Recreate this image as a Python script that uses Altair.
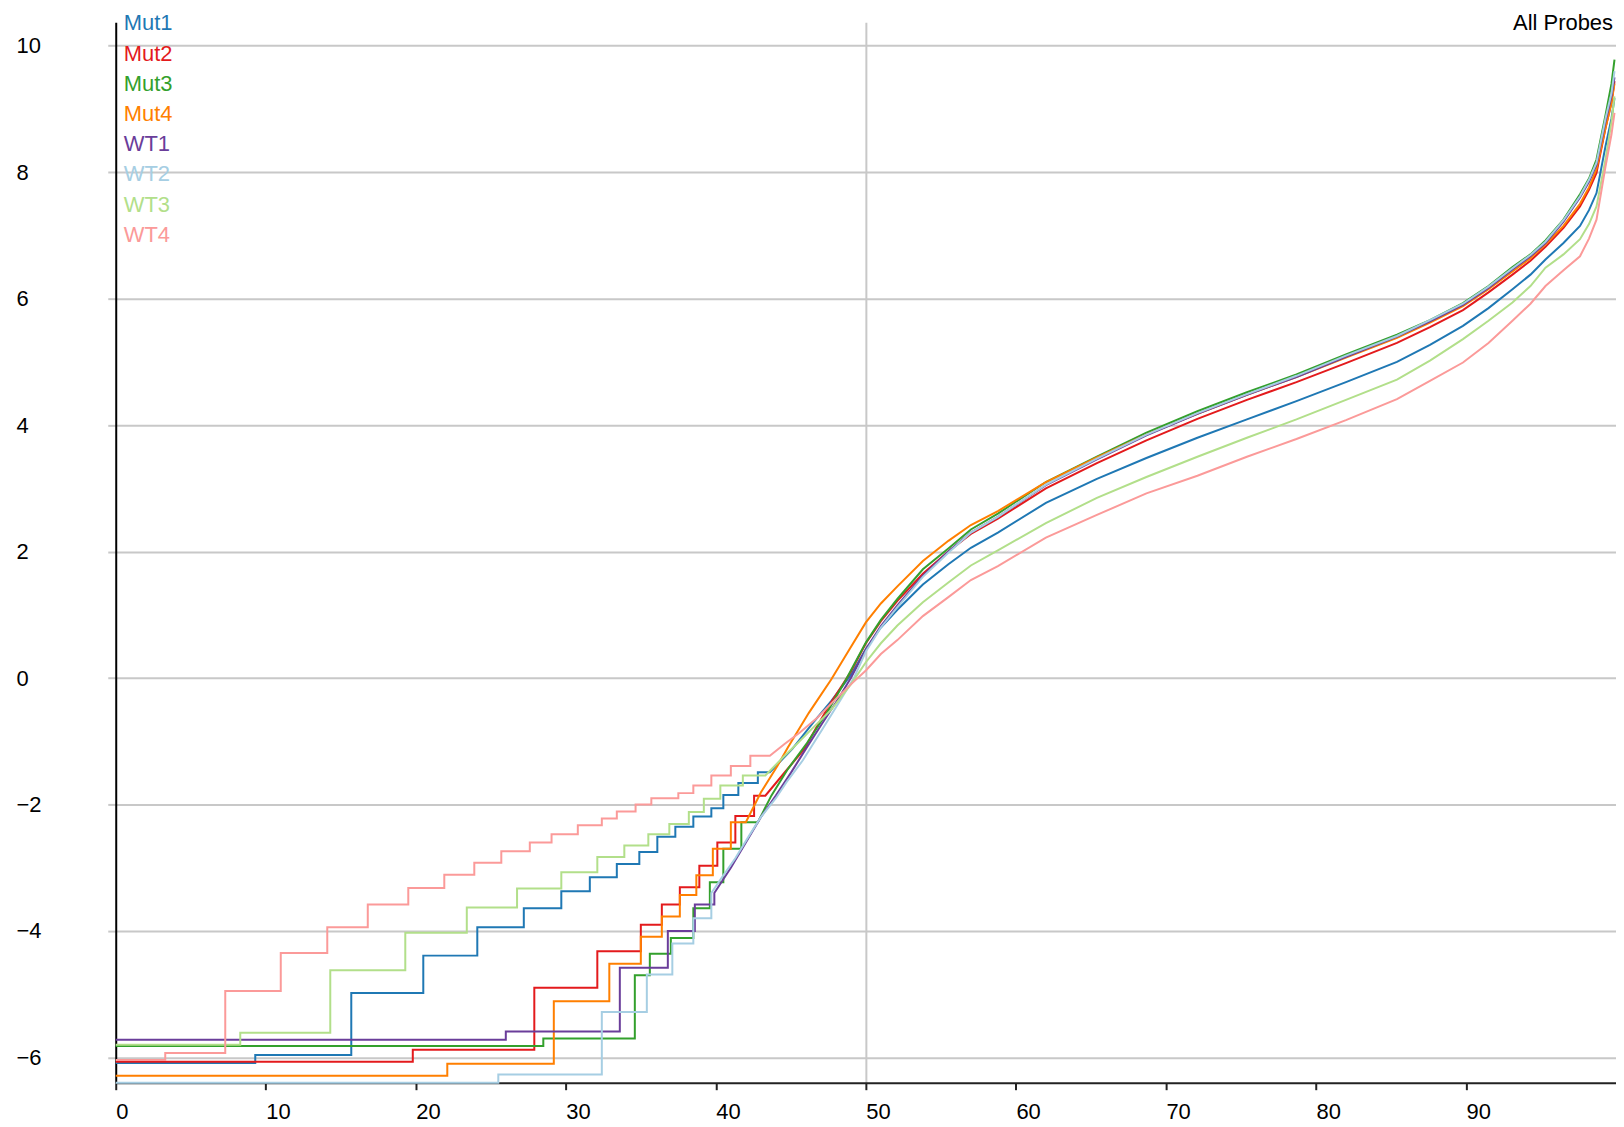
import altair as alt
import pandas as pd

SERIES = ["Mut1", "Mut2", "Mut3", "Mut4", "WT1", "WT2", "WT3", "WT4"]
COLORS = ["#1f78b4", "#e31a1c", "#33a02c", "#ff7f00", "#6a3d9a", "#a6cee3", "#b2df8a", "#fb9a99"]
TITLE = "All Probes"
X_TICKS = [0, 10, 20, 30, 40, 50, 60, 70, 80, 90]
Y_TICKS = [-6, -4, -2, 0, 2, 4, 6, 8, 10]
X_GRID = [50]

UPPER_X = [50, 51, 52.1, 53.8, 55.5, 57, 58.8, 62, 65.4, 68.7, 72.1, 75.4, 78.7, 82, 85.4,
           87.6, 89.8, 91.5, 93.1, 94.3, 95.3, 96.5, 97.6, 98.2, 98.7, 99.3, 99.7, 99.9]

MUT1_X = [0, 9.3, 9.3, 15.7, 15.7, 20.5, 20.5, 24.1, 24.1, 27.2, 27.2, 29.7, 29.7, 31.6, 31.6,
          33.4, 33.4, 34.9, 34.9, 36.1, 36.1, 37.3, 37.3, 38.5, 38.5, 39.7, 39.7, 40.5, 40.5,
          41.5, 41.5, 42.8, 42.8, 43.6, 45.1, 46.5, 47.7, 49] + UPPER_X
MUT1_Y = [-6.09, -6.09, -5.96, -5.96, -4.98, -4.98, -4.39, -4.39, -3.94, -3.94, -3.64, -3.64,
          -3.37, -3.37, -3.15, -3.15, -2.94, -2.94, -2.75, -2.75, -2.51, -2.51, -2.35, -2.35,
          -2.19, -2.19, -2.06, -2.06, -1.85, -1.85, -1.66, -1.66, -1.49, -1.49, -1.12, -0.70,
          -0.36, 0.05,
          0.46, 0.80, 1.08, 1.48, 1.80, 2.06, 2.30, 2.77, 3.15, 3.48, 3.80, 4.09, 4.38, 4.68, 5.00,
          5.27, 5.57, 5.85, 6.15, 6.38, 6.62, 6.88, 7.15, 7.40, 7.67, 8.41, 8.85, 9.17]

MUT2_X = [0, 19.8, 19.8, 27.9, 27.9, 32.1, 32.1, 35.0, 35.0, 36.4, 36.4, 37.6, 37.6, 38.9, 38.9,
          40.1, 40.1, 41.3, 41.3, 42.55, 42.55, 43.3, 44.6, 45.9, 46.9, 47.7, 49] + UPPER_X
MUT2_Y = [-6.07, -6.07, -5.88, -5.88, -4.90, -4.90, -4.32, -4.32, -3.90, -3.90, -3.58, -3.58,
          -3.31, -3.31, -2.97, -2.97, -2.60, -2.60, -2.18, -2.18, -1.86, -1.86, -1.49, -1.12,
          -0.70, -0.38, 0.10,
          0.55, 0.90, 1.22, 1.65, 2.00, 2.28, 2.52, 3.00, 3.40, 3.76, 4.10, 4.40, 4.68, 4.98, 5.30,
          5.55, 5.82, 6.10, 6.38, 6.60, 6.82, 7.12, 7.46, 7.72, 7.99, 8.70, 9.10, 9.44]

MUT3_X = [0, 28.5, 28.5, 34.6, 34.6, 35.6, 35.6, 37.0, 37.0, 38.5, 38.5, 39.6, 39.6, 40.5, 40.5,
          41.7, 41.7, 42.8, 43.7, 44.8, 46.1, 47.4, 48.5] + UPPER_X
MUT3_Y = [-5.82, -5.82, -5.70, -5.70, -4.70, -4.70, -4.36, -4.36, -4.11, -4.11, -3.64, -3.64,
          -3.23, -3.23, -2.70, -2.70, -2.28, -2.28, -1.86, -1.44, -1.02, -0.55, -0.10,
          0.56, 0.92, 1.25, 1.72, 2.05, 2.35, 2.60, 3.10, 3.50, 3.88, 4.22, 4.52, 4.80, 5.12, 5.43,
          5.66, 5.93, 6.20, 6.50, 6.70, 6.92, 7.25, 7.65, 7.90, 8.20, 8.90, 9.40, 9.78]

MUT4_X = [0, 22.1, 22.1, 29.2, 29.2, 32.9, 32.9, 35.0, 35.0, 36.4, 36.4, 37.6, 37.6, 38.7, 38.7,
          39.8, 39.8, 41.0, 41.0, 42.0, 43.0, 44.1, 44.8, 46.2, 47.7, 48.9] + UPPER_X
MUT4_Y = [-6.29, -6.29, -6.10, -6.10, -5.11, -5.11, -4.52, -4.52, -4.09, -4.09, -3.77, -3.77,
          -3.43, -3.43, -3.12, -3.12, -2.70, -2.70, -2.28, -2.28, -1.81, -1.39, -1.10, -0.55,
          -0.02, 0.45,
          0.88, 1.18, 1.45, 1.85, 2.17, 2.42, 2.64, 3.10, 3.49, 3.85, 4.18, 4.48, 4.76, 5.07, 5.38,
          5.62, 5.88, 6.15, 6.43, 6.64, 6.86, 7.15, 7.50, 7.76, 8.05, 8.70, 9.10, 9.40]

WT1_X = [0, 26.0, 26.0, 33.6, 33.6, 36.8, 36.8, 38.6, 38.6, 39.9, 39.9, 41.0, 42.0, 43.0, 44.0,
         45.0, 46.0, 47.0, 48.1, 49] + UPPER_X
WT1_Y = [-5.72, -5.72, -5.59, -5.59, -4.58, -4.58, -4.00, -4.00, -3.58, -3.58, -3.40, -3.00,
         -2.60, -2.20, -1.86, -1.50, -1.12, -0.75, -0.35, 0.00,
         0.45, 0.82, 1.15, 1.62, 2.00, 2.30, 2.55, 3.05, 3.46, 3.84, 4.18, 4.48, 4.76, 5.08, 5.40,
         5.64, 5.90, 6.17, 6.46, 6.67, 6.88, 7.22, 7.60, 7.85, 8.12, 8.80, 9.20, 9.50]

WT2_X = [0, 25.5, 25.5, 32.4, 32.4, 35.4, 35.4, 37.1, 37.1, 38.5, 38.5, 39.7, 39.7, 40.5, 41.3,
         42.2, 43.0, 44.0, 44.7, 45.8, 47.1, 48.3, 49.2] + UPPER_X
WT2_Y = [-6.40, -6.40, -6.27, -6.27, -5.28, -5.28, -4.69, -4.69, -4.20, -4.20, -3.80, -3.80,
         -3.40, -3.12, -2.85, -2.50, -2.20, -1.90, -1.65, -1.30, -0.81, -0.35, 0.00,
         0.42, 0.80, 1.12, 1.60, 1.98, 2.30, 2.55, 3.06, 3.47, 3.85, 4.19, 4.49, 4.78, 5.10, 5.41,
         5.66, 5.92, 6.19, 6.48, 6.69, 6.90, 7.24, 7.62, 7.88, 8.15, 8.85, 9.25, 9.60]

WT3_X = [0, 8.3, 8.3, 14.3, 14.3, 19.3, 19.3, 23.4, 23.4, 26.75, 26.75, 29.7, 29.7, 32.1, 32.1,
         33.9, 33.9, 35.5, 35.5, 36.9, 36.9, 38.2, 38.2, 39.2, 39.2, 40.3, 40.3, 41.8, 41.8, 43.3,
         44.5, 45.5, 46.5, 47.7, 49] + UPPER_X
WT3_Y = [-5.80, -5.80, -5.61, -5.61, -4.62, -4.62, -4.03, -4.03, -3.63, -3.63, -3.33, -3.33,
         -3.07, -3.07, -2.83, -2.83, -2.65, -2.65, -2.47, -2.47, -2.31, -2.31, -2.12, -2.12,
         -1.91, -1.91, -1.70, -1.70, -1.54, -1.54, -1.25, -1.02, -0.78, -0.50, -0.10,
         0.25, 0.55, 0.83, 1.20, 1.51, 1.78, 2.02, 2.45, 2.85, 3.18, 3.50, 3.80, 4.09, 4.40, 4.72,
         5.02, 5.36, 5.65, 5.94, 6.20, 6.49, 6.70, 6.94, 7.18, 7.46, 8.20, 8.80, 9.20]

WT4_X = [0, 3.3, 3.3, 7.3, 7.3, 11.0, 11.0, 14.1, 14.1, 16.8, 16.8, 19.5, 19.5, 21.9, 21.9,
         23.9, 23.9, 25.7, 25.7, 27.6, 27.6, 29.05, 29.05, 30.8, 30.8, 32.4, 32.4, 33.4, 33.4,
         34.65, 34.65, 35.7, 35.7, 37.5, 37.5, 38.5, 38.5, 39.7, 39.7, 41.0, 41.0, 42.3, 42.3,
         43.6, 44.6, 45.6, 46.8, 47.7, 49] + UPPER_X
WT4_Y = [-6.04, -6.04, -5.93, -5.93, -4.95, -4.95, -4.35, -4.35, -3.94, -3.94, -3.58, -3.58,
         -3.32, -3.32, -3.11, -3.11, -2.92, -2.92, -2.74, -2.74, -2.60, -2.60, -2.47, -2.47,
         -2.33, -2.33, -2.22, -2.22, -2.11, -2.11, -2.00, -2.00, -1.90, -1.90, -1.82, -1.82,
         -1.70, -1.70, -1.54, -1.54, -1.39, -1.39, -1.23, -1.23, -1.04, -0.86, -0.62, -0.40,
         -0.10,
         0.12, 0.38, 0.60, 0.98, 1.28, 1.55, 1.77, 2.22, 2.58, 2.92, 3.20, 3.50, 3.78, 4.08, 4.41,
         4.70, 4.99, 5.30, 5.65, 5.92, 6.20, 6.45, 6.67, 6.95, 7.25, 8.09, 8.60, 8.94]

XS = [MUT1_X, MUT2_X, MUT3_X, MUT4_X, WT1_X, WT2_X, WT3_X, WT4_X]
YS = [MUT1_Y, MUT2_Y, MUT3_Y, MUT4_Y, WT1_Y, WT2_Y, WT3_Y, WT4_Y]

rows = []
for name, xs, ys in zip(SERIES, XS, YS):
    for i, (xv, yv) in enumerate(zip(xs, ys)):
        rows.append({"series": name, "x": xv, "y": yv, "i": i})
df = pd.DataFrame(rows)

FONT = "Liberation Sans"
color_scale = alt.Scale(domain=SERIES, range=COLORS)

lines = alt.Chart(df).mark_line(strokeWidth=2).encode(
    x=alt.X("x:Q", scale=alt.Scale(domain=[0, 100], nice=False, zero=False),
            axis=alt.Axis(values=X_TICKS, title=None, labelAlign="left", labelBaseline="top",
                          labelPadding=12, tickSize=7, tickWidth=2, tickColor="#222222",
                          domainColor="#222222", domainWidth=2, grid=True,
                          gridColor="#c8c8c8", gridWidth=2,
                          gridOpacity={"condition": {"test": "datum.value === %d" % X_GRID[0], "value": 1}, "value": 0})),
    y=alt.Y("y:Q", scale=alt.Scale(domain=[-6.40, 10.37], nice=False, zero=False),
            axis=alt.Axis(values=Y_TICKS, title=None, labelAlign="left", labelBaseline="middle",
                          labelPadding=92, tickSize=8, tickWidth=2, tickColor="#c8c8c8",
                          domainColor="#000000", domainWidth=2, grid=True,
                          gridColor="#c8c8c8", gridWidth=2)),
    color=alt.Color("series:N", scale=color_scale, legend=None),
    order=alt.Order("i:Q"),
)

legend_df = pd.DataFrame({"series": SERIES, "rank": list(range(len(SERIES)))})
legend = alt.Chart(legend_df).mark_text(align="left", baseline="middle", fontSize=22, font=FONT).encode(
    x=alt.value(8),
    y=alt.Y("rank:O", scale=alt.Scale(type="point", range=[1, 213], padding=0), axis=None),
    text="series:N",
    color=alt.Color("series:N", scale=color_scale, legend=None),
)

title = alt.Chart(pd.DataFrame({"t": [TITLE]})).mark_text(
    align="right", baseline="middle", fontSize=22, font=FONT, color="#000000"
).encode(x=alt.value(1501), y=alt.value(1), text="t:N")

chart = alt.layer(lines, legend, title).resolve_scale(y="independent").properties(
    width=1504, height=1063,
    autosize=alt.AutoSizeParams(type="none"),
    padding={"left": 108, "top": 13, "right": 0, "bottom": 40},
    background="#ffffff",
).configure_view(stroke=None).configure_axis(
    labelFont=FONT, labelFontSize=22, labelColor="#000000"
)

chart.save("out.html", embed_options={"renderer": "svg", "actions": False})
